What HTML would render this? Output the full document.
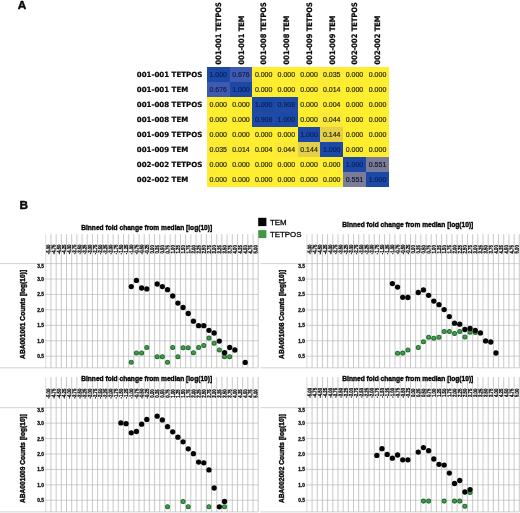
<!DOCTYPE html>
<html lang="en">
<head>
<meta charset="utf-8">
<title>Figure: correlation matrix and binned fold change plots</title>
<style>
html,body{margin:0;padding:0;background:#fff;}
body{width:520px;height:513px;overflow:hidden;font-family:"Liberation Sans",Arial,sans-serif;}
svg{display:block;}
</style>
</head>
<body>
<svg width="520" height="513" viewBox="0 0 520 513">
<rect width="520" height="513" fill="#fff"/>
<g shape-rendering="crispEdges">
<rect x="206.9" y="67.4" width="182.40" height="119.84" fill="#ffee30"/>
<rect x="206.90" y="67.40" width="22.70" height="14.98" fill="#1d49a6"/>
<rect x="229.60" y="67.40" width="22.70" height="14.98" fill="#3f5bb0"/>
<rect x="320.40" y="67.40" width="22.70" height="14.98" fill="#fcea36"/>
<rect x="206.90" y="82.38" width="22.70" height="14.98" fill="#3f5bb0"/>
<rect x="229.60" y="82.38" width="22.70" height="14.98" fill="#1d49a6"/>
<rect x="320.40" y="82.38" width="22.70" height="14.98" fill="#feec32"/>
<rect x="252.30" y="97.36" width="22.70" height="14.98" fill="#1d49a6"/>
<rect x="275.00" y="97.36" width="22.70" height="14.98" fill="#1f4aa6"/>
<rect x="252.30" y="112.34" width="22.70" height="14.98" fill="#1f4aa6"/>
<rect x="275.00" y="112.34" width="22.70" height="14.98" fill="#1d49a6"/>
<rect x="320.40" y="112.34" width="22.70" height="14.98" fill="#fbe838"/>
<rect x="297.70" y="127.32" width="22.70" height="14.98" fill="#1d49a6"/>
<rect x="320.40" y="127.32" width="22.70" height="14.98" fill="#e4cf48"/>
<rect x="206.90" y="142.30" width="22.70" height="14.98" fill="#fcea36"/>
<rect x="229.60" y="142.30" width="22.70" height="14.98" fill="#feec32"/>
<rect x="275.00" y="142.30" width="22.70" height="14.98" fill="#fbe838"/>
<rect x="297.70" y="142.30" width="22.70" height="14.98" fill="#e4cf48"/>
<rect x="320.40" y="142.30" width="22.70" height="14.98" fill="#1d49a6"/>
<rect x="343.10" y="157.28" width="22.70" height="14.98" fill="#1d49a6"/>
<rect x="365.80" y="157.28" width="23.50" height="14.98" fill="#7b7c98"/>
<rect x="343.10" y="172.26" width="22.70" height="14.98" fill="#7b7c98"/>
<rect x="365.80" y="172.26" width="23.50" height="14.98" fill="#1d49a6"/>
</g>
<g font-family="'Liberation Sans',Arial,sans-serif" font-size="7" text-anchor="middle" stroke-width="0.18">
<text x="218.25" y="76.99" fill="#08205f" stroke="#08205f">1.000</text>
<text x="240.95" y="76.99" fill="#101c50" stroke="#101c50">0.676</text>
<text x="263.65" y="76.99" fill="#26260a" stroke="#26260a">0.000</text>
<text x="286.35" y="76.99" fill="#26260a" stroke="#26260a">0.000</text>
<text x="309.05" y="76.99" fill="#26260a" stroke="#26260a">0.000</text>
<text x="331.75" y="76.99" fill="#26260a" stroke="#26260a">0.035</text>
<text x="354.45" y="76.99" fill="#26260a" stroke="#26260a">0.000</text>
<text x="377.55" y="76.99" fill="#26260a" stroke="#26260a">0.000</text>
<text x="218.25" y="91.97" fill="#101c50" stroke="#101c50">0.676</text>
<text x="240.95" y="91.97" fill="#08205f" stroke="#08205f">1.000</text>
<text x="263.65" y="91.97" fill="#26260a" stroke="#26260a">0.000</text>
<text x="286.35" y="91.97" fill="#26260a" stroke="#26260a">0.000</text>
<text x="309.05" y="91.97" fill="#26260a" stroke="#26260a">0.000</text>
<text x="331.75" y="91.97" fill="#26260a" stroke="#26260a">0.014</text>
<text x="354.45" y="91.97" fill="#26260a" stroke="#26260a">0.000</text>
<text x="377.55" y="91.97" fill="#26260a" stroke="#26260a">0.000</text>
<text x="218.25" y="106.95" fill="#26260a" stroke="#26260a">0.000</text>
<text x="240.95" y="106.95" fill="#26260a" stroke="#26260a">0.000</text>
<text x="263.65" y="106.95" fill="#08205f" stroke="#08205f">1.000</text>
<text x="286.35" y="106.95" fill="#08205f" stroke="#08205f">0.908</text>
<text x="309.05" y="106.95" fill="#26260a" stroke="#26260a">0.000</text>
<text x="331.75" y="106.95" fill="#26260a" stroke="#26260a">0.004</text>
<text x="354.45" y="106.95" fill="#26260a" stroke="#26260a">0.000</text>
<text x="377.55" y="106.95" fill="#26260a" stroke="#26260a">0.000</text>
<text x="218.25" y="121.93" fill="#26260a" stroke="#26260a">0.000</text>
<text x="240.95" y="121.93" fill="#26260a" stroke="#26260a">0.000</text>
<text x="263.65" y="121.93" fill="#08205f" stroke="#08205f">0.908</text>
<text x="286.35" y="121.93" fill="#08205f" stroke="#08205f">1.000</text>
<text x="309.05" y="121.93" fill="#26260a" stroke="#26260a">0.000</text>
<text x="331.75" y="121.93" fill="#26260a" stroke="#26260a">0.044</text>
<text x="354.45" y="121.93" fill="#26260a" stroke="#26260a">0.000</text>
<text x="377.55" y="121.93" fill="#26260a" stroke="#26260a">0.000</text>
<text x="218.25" y="136.91" fill="#26260a" stroke="#26260a">0.000</text>
<text x="240.95" y="136.91" fill="#26260a" stroke="#26260a">0.000</text>
<text x="263.65" y="136.91" fill="#26260a" stroke="#26260a">0.000</text>
<text x="286.35" y="136.91" fill="#26260a" stroke="#26260a">0.000</text>
<text x="309.05" y="136.91" fill="#08205f" stroke="#08205f">1.000</text>
<text x="331.75" y="136.91" fill="#26260a" stroke="#26260a">0.144</text>
<text x="354.45" y="136.91" fill="#26260a" stroke="#26260a">0.000</text>
<text x="377.55" y="136.91" fill="#26260a" stroke="#26260a">0.000</text>
<text x="218.25" y="151.89" fill="#26260a" stroke="#26260a">0.035</text>
<text x="240.95" y="151.89" fill="#26260a" stroke="#26260a">0.014</text>
<text x="263.65" y="151.89" fill="#26260a" stroke="#26260a">0.004</text>
<text x="286.35" y="151.89" fill="#26260a" stroke="#26260a">0.044</text>
<text x="309.05" y="151.89" fill="#26260a" stroke="#26260a">0.144</text>
<text x="331.75" y="151.89" fill="#08205f" stroke="#08205f">1.000</text>
<text x="354.45" y="151.89" fill="#26260a" stroke="#26260a">0.000</text>
<text x="377.55" y="151.89" fill="#26260a" stroke="#26260a">0.000</text>
<text x="218.25" y="166.87" fill="#26260a" stroke="#26260a">0.000</text>
<text x="240.95" y="166.87" fill="#26260a" stroke="#26260a">0.000</text>
<text x="263.65" y="166.87" fill="#26260a" stroke="#26260a">0.000</text>
<text x="286.35" y="166.87" fill="#26260a" stroke="#26260a">0.000</text>
<text x="309.05" y="166.87" fill="#26260a" stroke="#26260a">0.000</text>
<text x="331.75" y="166.87" fill="#26260a" stroke="#26260a">0.000</text>
<text x="354.45" y="166.87" fill="#08205f" stroke="#08205f">1.000</text>
<text x="377.55" y="166.87" fill="#15152a" stroke="#15152a">0.551</text>
<text x="218.25" y="181.85" fill="#26260a" stroke="#26260a">0.000</text>
<text x="240.95" y="181.85" fill="#26260a" stroke="#26260a">0.000</text>
<text x="263.65" y="181.85" fill="#26260a" stroke="#26260a">0.000</text>
<text x="286.35" y="181.85" fill="#26260a" stroke="#26260a">0.000</text>
<text x="309.05" y="181.85" fill="#26260a" stroke="#26260a">0.000</text>
<text x="331.75" y="181.85" fill="#26260a" stroke="#26260a">0.000</text>
<text x="354.45" y="181.85" fill="#15152a" stroke="#15152a">0.551</text>
<text x="377.55" y="181.85" fill="#08205f" stroke="#08205f">1.000</text>
</g>
<g font-family="'DejaVu Sans',Verdana,sans-serif" font-weight="bold" font-size="7.05" fill="#0a0a0a" stroke="#0a0a0a" stroke-width="0.22">
<text x="136.8" y="77.19">001-001 TETPOS</text>
<text x="136.8" y="92.17">001-001 TEM</text>
<text x="136.8" y="107.15">001-008 TETPOS</text>
<text x="136.8" y="122.13">001-008 TEM</text>
<text x="136.8" y="137.11">001-009 TETPOS</text>
<text x="136.8" y="152.09">001-009 TEM</text>
<text x="136.8" y="167.07">002-002 TETPOS</text>
<text x="136.8" y="182.05">002-002 TEM</text>
<text transform="translate(221.00,64.4) rotate(-90) scale(1,1.12)" font-size="6.7">001-001 TETPOS</text>
<text transform="translate(243.70,64.4) rotate(-90) scale(1,1.12)" font-size="6.7">001-001 TEM</text>
<text transform="translate(266.40,64.4) rotate(-90) scale(1,1.12)" font-size="6.7">001-008 TETPOS</text>
<text transform="translate(289.10,64.4) rotate(-90) scale(1,1.12)" font-size="6.7">001-008 TEM</text>
<text transform="translate(311.80,64.4) rotate(-90) scale(1,1.12)" font-size="6.7">001-009 TETPOS</text>
<text transform="translate(334.50,64.4) rotate(-90) scale(1,1.12)" font-size="6.7">001-009 TEM</text>
<text transform="translate(357.20,64.4) rotate(-90) scale(1,1.12)" font-size="6.7">002-002 TETPOS</text>
<text transform="translate(380.30,64.4) rotate(-90) scale(1,1.12)" font-size="6.7">002-002 TEM</text>
</g>
<g font-family="'Liberation Sans',Arial,sans-serif" font-weight="bold" font-size="11.8" fill="#0a0a0a" stroke="#0a0a0a" stroke-width="0.45">
<text x="17.8" y="8.5">A</text><text x="19.4" y="209.0">B</text></g>
<rect x="258.2" y="217.8" width="8.2" height="8.3" fill="#050505"/>
<rect x="258.2" y="230.1" width="8.2" height="8" fill="#3d9a41"/>
<g font-family="'Liberation Sans',Arial,sans-serif" font-size="7.9" fill="#0a0a0a" stroke="#0a0a0a" stroke-width="0.3">
<text x="269.9" y="225.2">TEM</text><text x="269.9" y="237.3">TETPOS</text></g>
<g stroke="#b2b2b2" stroke-width="0.7" fill="none">
<path d="M45.80 234.2V367.8" stroke="#cfcfcf"/>
<path d="M50.98 234.2V367.8M56.16 234.2V367.8M61.34 234.2V367.8M66.52 234.2V367.8M71.70 234.2V367.8M76.88 234.2V367.8M82.06 234.2V367.8M87.24 234.2V367.8M92.42 234.2V367.8M97.60 234.2V367.8M102.78 234.2V367.8M107.96 234.2V367.8M113.14 234.2V367.8M118.32 234.2V367.8M123.50 234.2V367.8M128.68 234.2V367.8M133.86 234.2V367.8M139.04 234.2V367.8M144.22 234.2V367.8M149.40 234.2V367.8M154.58 234.2V367.8M159.76 234.2V367.8M164.94 234.2V367.8M170.12 234.2V367.8M175.30 234.2V367.8M180.48 234.2V367.8M185.66 234.2V367.8M190.84 234.2V367.8M196.02 234.2V367.8M201.20 234.2V367.8M206.38 234.2V367.8M211.56 234.2V367.8M216.74 234.2V367.8M221.92 234.2V367.8M227.10 234.2V367.8M232.28 234.2V367.8M237.46 234.2V367.8M242.64 234.2V367.8M247.82 234.2V367.8M253.00 234.2V367.8M258.18 234.2V367.8"/>
</g>
<g stroke="#b2b2b2" stroke-width="0.6" fill="none">
<path d="M0.0 263.60H258.18M44.70 279.03H258.18M44.70 294.46H258.18M44.70 309.89H258.18M44.70 325.32H258.18M44.70 340.75H258.18M44.70 356.18H258.18M0.0 367.80H258.18"/>
</g>
<text x="81.2" y="229.5" font-family="'Liberation Sans',Arial,sans-serif" font-weight="bold" font-size="7.3" fill="#050505" stroke="#050505" stroke-width="0.38" textLength="131" lengthAdjust="spacingAndGlyphs">Binned fold change from median [log(10)]</text>
<g font-family="'Liberation Sans',Arial,sans-serif" font-weight="bold" font-size="4.3" fill="#000" stroke="#000" stroke-width="0.2" text-anchor="middle">
<text transform="translate(50.34,249.4) rotate(-89.6) scale(1,1.3)">-5.00</text>
<text transform="translate(55.52,249.4) rotate(-89.6) scale(1,1.3)">-4.75</text>
<text transform="translate(60.70,249.4) rotate(-89.6) scale(1,1.3)">-4.50</text>
<text transform="translate(65.88,249.4) rotate(-89.6) scale(1,1.3)">-4.25</text>
<text transform="translate(71.06,249.4) rotate(-89.6) scale(1,1.3)">-4.00</text>
<text transform="translate(76.24,249.4) rotate(-89.6) scale(1,1.3)">-3.75</text>
<text transform="translate(81.42,249.4) rotate(-89.6) scale(1,1.3)">-3.50</text>
<text transform="translate(86.60,249.4) rotate(-89.6) scale(1,1.3)">-3.25</text>
<text transform="translate(91.78,249.4) rotate(-89.6) scale(1,1.3)">-3.00</text>
<text transform="translate(96.96,249.4) rotate(-89.6) scale(1,1.3)">-2.75</text>
<text transform="translate(102.14,249.4) rotate(-89.6) scale(1,1.3)">-2.50</text>
<text transform="translate(107.32,249.4) rotate(-89.6) scale(1,1.3)">-2.25</text>
<text transform="translate(112.50,249.4) rotate(-89.6) scale(1,1.3)">-2.00</text>
<text transform="translate(117.68,249.4) rotate(-89.6) scale(1,1.3)">-1.75</text>
<text transform="translate(122.86,249.4) rotate(-89.6) scale(1,1.3)">-1.50</text>
<text transform="translate(128.04,249.4) rotate(-89.6) scale(1,1.3)">-1.25</text>
<text transform="translate(133.22,249.4) rotate(-89.6) scale(1,1.3)">-1.00</text>
<text transform="translate(138.40,249.4) rotate(-89.6) scale(1,1.3)">-0.75</text>
<text transform="translate(143.58,249.4) rotate(-89.6) scale(1,1.3)">-0.50</text>
<text transform="translate(148.76,249.4) rotate(-89.6) scale(1,1.3)">-0.25</text>
<text transform="translate(153.94,249.4) rotate(-89.6) scale(1,1.3)">0.00</text>
<text transform="translate(159.12,249.4) rotate(-89.6) scale(1,1.3)">0.25</text>
<text transform="translate(164.30,249.4) rotate(-89.6) scale(1,1.3)">0.50</text>
<text transform="translate(169.48,249.4) rotate(-89.6) scale(1,1.3)">0.75</text>
<text transform="translate(174.66,249.4) rotate(-89.6) scale(1,1.3)">1.00</text>
<text transform="translate(179.84,249.4) rotate(-89.6) scale(1,1.3)">1.25</text>
<text transform="translate(185.02,249.4) rotate(-89.6) scale(1,1.3)">1.50</text>
<text transform="translate(190.20,249.4) rotate(-89.6) scale(1,1.3)">1.75</text>
<text transform="translate(195.38,249.4) rotate(-89.6) scale(1,1.3)">2.00</text>
<text transform="translate(200.56,249.4) rotate(-89.6) scale(1,1.3)">2.25</text>
<text transform="translate(205.74,249.4) rotate(-89.6) scale(1,1.3)">2.50</text>
<text transform="translate(210.92,249.4) rotate(-89.6) scale(1,1.3)">2.75</text>
<text transform="translate(216.10,249.4) rotate(-89.6) scale(1,1.3)">3.00</text>
<text transform="translate(221.28,249.4) rotate(-89.6) scale(1,1.3)">3.25</text>
<text transform="translate(226.46,249.4) rotate(-89.6) scale(1,1.3)">3.50</text>
<text transform="translate(231.64,249.4) rotate(-89.6) scale(1,1.3)">3.75</text>
<text transform="translate(236.82,249.4) rotate(-89.6) scale(1,1.3)">4.00</text>
<text transform="translate(242.00,249.4) rotate(-89.6) scale(1,1.3)">4.25</text>
<text transform="translate(247.18,249.4) rotate(-89.6) scale(1,1.3)">4.50</text>
<text transform="translate(252.36,249.4) rotate(-89.6) scale(1,1.3)">4.75</text>
<text transform="translate(257.54,249.4) rotate(-89.6) scale(1,1.3)">5.00</text>
</g>
<g font-family="'Liberation Sans',Arial,sans-serif" font-weight="bold" font-size="4.8" fill="#0a0a0a" stroke="#0a0a0a" stroke-width="0.28" text-anchor="end">
<text x="43.9" y="268.35">3.5</text>
<text x="43.9" y="280.98">3.0</text>
<text x="43.9" y="296.41">2.5</text>
<text x="43.9" y="311.84">2.0</text>
<text x="43.9" y="327.27">1.5</text>
<text x="43.9" y="342.70">1.0</text>
<text x="43.9" y="358.13">0.5</text>
</g>
<text transform="translate(25.2,314.4) rotate(-90)" text-anchor="middle" font-family="'Liberation Sans',Arial,sans-serif" font-weight="bold" font-size="7.3" fill="#050505" stroke="#050505" stroke-width="0.38" textLength="89" lengthAdjust="spacingAndGlyphs">ABA001001 Counts [log(10)]</text>
<g fill="#4a9b4f" stroke="#1f6f2b" stroke-width="1.05">
<circle cx="131.27" cy="362.2" r="2.0"/>
<circle cx="136.45" cy="353.0" r="2.0"/>
<circle cx="141.63" cy="353.0" r="2.0"/>
<circle cx="146.81" cy="347.4" r="2.0"/>
<circle cx="157.17" cy="356.8" r="2.0"/>
<circle cx="162.35" cy="356.8" r="2.0"/>
<circle cx="167.53" cy="362.2" r="2.0"/>
<circle cx="172.71" cy="347.4" r="2.0"/>
<circle cx="177.89" cy="356.7" r="2.0"/>
<circle cx="183.07" cy="347.7" r="2.0"/>
<circle cx="188.25" cy="347.7" r="2.0"/>
<circle cx="193.43" cy="352.7" r="2.0"/>
<circle cx="198.61" cy="347.5" r="2.0"/>
<circle cx="203.79" cy="345.4" r="2.0"/>
<circle cx="208.97" cy="338.1" r="2.0"/>
<circle cx="214.15" cy="343.2" r="2.0"/>
<circle cx="219.33" cy="350.0" r="2.0"/>
<circle cx="224.51" cy="356.7" r="2.0"/>
<circle cx="229.69" cy="356.7" r="2.0"/>
</g><g fill="#050505">
<circle cx="131.27" cy="286.6" r="2.65"/>
<circle cx="136.45" cy="280.4" r="2.65"/>
<circle cx="141.63" cy="288.0" r="2.65"/>
<circle cx="146.81" cy="288.9" r="2.65"/>
<circle cx="157.17" cy="284.0" r="2.65"/>
<circle cx="162.35" cy="286.6" r="2.65"/>
<circle cx="167.53" cy="289.7" r="2.65"/>
<circle cx="172.71" cy="296.0" r="2.65"/>
<circle cx="177.89" cy="303.1" r="2.65"/>
<circle cx="183.07" cy="307.5" r="2.65"/>
<circle cx="188.25" cy="313.5" r="2.65"/>
<circle cx="193.43" cy="321.2" r="2.65"/>
<circle cx="198.61" cy="325.7" r="2.65"/>
<circle cx="203.79" cy="325.7" r="2.65"/>
<circle cx="208.97" cy="330.3" r="2.65"/>
<circle cx="214.15" cy="333.0" r="2.65"/>
<circle cx="219.33" cy="341.1" r="2.65"/>
<circle cx="224.51" cy="352.7" r="2.65"/>
<circle cx="229.69" cy="347.5" r="2.65"/>
<circle cx="234.87" cy="350.0" r="2.65"/>
<circle cx="245.23" cy="362.4" r="2.65"/>
</g>
<g stroke="#b2b2b2" stroke-width="0.7" fill="none">
<path d="M306.90 234.2V367.8" stroke="#cfcfcf"/>
<path d="M312.08 234.2V367.8M317.26 234.2V367.8M322.44 234.2V367.8M327.62 234.2V367.8M332.80 234.2V367.8M337.98 234.2V367.8M343.16 234.2V367.8M348.34 234.2V367.8M353.52 234.2V367.8M358.70 234.2V367.8M363.88 234.2V367.8M369.06 234.2V367.8M374.24 234.2V367.8M379.42 234.2V367.8M384.60 234.2V367.8M389.78 234.2V367.8M394.96 234.2V367.8M400.14 234.2V367.8M405.32 234.2V367.8M410.50 234.2V367.8M415.68 234.2V367.8M420.86 234.2V367.8M426.04 234.2V367.8M431.22 234.2V367.8M436.40 234.2V367.8M441.58 234.2V367.8M446.76 234.2V367.8M451.94 234.2V367.8M457.12 234.2V367.8M462.30 234.2V367.8M467.48 234.2V367.8M472.66 234.2V367.8M477.84 234.2V367.8M483.02 234.2V367.8M488.20 234.2V367.8M493.38 234.2V367.8M498.56 234.2V367.8M503.74 234.2V367.8M508.92 234.2V367.8M514.10 234.2V367.8M519.28 234.2V367.8"/>
</g>
<g stroke="#b2b2b2" stroke-width="0.6" fill="none">
<path d="M260.3 263.60H519.28M305.80 279.03H519.28M305.80 294.46H519.28M305.80 309.89H519.28M305.80 325.32H519.28M305.80 340.75H519.28M305.80 356.18H519.28M260.3 367.80H519.28"/>
</g>
<text x="342.3" y="226.8" font-family="'Liberation Sans',Arial,sans-serif" font-weight="bold" font-size="7.3" fill="#050505" stroke="#050505" stroke-width="0.38" textLength="131" lengthAdjust="spacingAndGlyphs">Binned fold change from median [log(10)]</text>
<g font-family="'Liberation Sans',Arial,sans-serif" font-weight="bold" font-size="4.3" fill="#000" stroke="#000" stroke-width="0.2" text-anchor="middle">
<text transform="translate(311.44,249.4) rotate(-89.6) scale(1,1.3)">-5.00</text>
<text transform="translate(316.62,249.4) rotate(-89.6) scale(1,1.3)">-4.75</text>
<text transform="translate(321.80,249.4) rotate(-89.6) scale(1,1.3)">-4.50</text>
<text transform="translate(326.98,249.4) rotate(-89.6) scale(1,1.3)">-4.25</text>
<text transform="translate(332.16,249.4) rotate(-89.6) scale(1,1.3)">-4.00</text>
<text transform="translate(337.34,249.4) rotate(-89.6) scale(1,1.3)">-3.75</text>
<text transform="translate(342.52,249.4) rotate(-89.6) scale(1,1.3)">-3.50</text>
<text transform="translate(347.70,249.4) rotate(-89.6) scale(1,1.3)">-3.25</text>
<text transform="translate(352.88,249.4) rotate(-89.6) scale(1,1.3)">-3.00</text>
<text transform="translate(358.06,249.4) rotate(-89.6) scale(1,1.3)">-2.75</text>
<text transform="translate(363.24,249.4) rotate(-89.6) scale(1,1.3)">-2.50</text>
<text transform="translate(368.42,249.4) rotate(-89.6) scale(1,1.3)">-2.25</text>
<text transform="translate(373.60,249.4) rotate(-89.6) scale(1,1.3)">-2.00</text>
<text transform="translate(378.78,249.4) rotate(-89.6) scale(1,1.3)">-1.75</text>
<text transform="translate(383.96,249.4) rotate(-89.6) scale(1,1.3)">-1.50</text>
<text transform="translate(389.14,249.4) rotate(-89.6) scale(1,1.3)">-1.25</text>
<text transform="translate(394.32,249.4) rotate(-89.6) scale(1,1.3)">-1.00</text>
<text transform="translate(399.50,249.4) rotate(-89.6) scale(1,1.3)">-0.75</text>
<text transform="translate(404.68,249.4) rotate(-89.6) scale(1,1.3)">-0.50</text>
<text transform="translate(409.86,249.4) rotate(-89.6) scale(1,1.3)">-0.25</text>
<text transform="translate(415.04,249.4) rotate(-89.6) scale(1,1.3)">0.00</text>
<text transform="translate(420.22,249.4) rotate(-89.6) scale(1,1.3)">0.25</text>
<text transform="translate(425.40,249.4) rotate(-89.6) scale(1,1.3)">0.50</text>
<text transform="translate(430.58,249.4) rotate(-89.6) scale(1,1.3)">0.75</text>
<text transform="translate(435.76,249.4) rotate(-89.6) scale(1,1.3)">1.00</text>
<text transform="translate(440.94,249.4) rotate(-89.6) scale(1,1.3)">1.25</text>
<text transform="translate(446.12,249.4) rotate(-89.6) scale(1,1.3)">1.50</text>
<text transform="translate(451.30,249.4) rotate(-89.6) scale(1,1.3)">1.75</text>
<text transform="translate(456.48,249.4) rotate(-89.6) scale(1,1.3)">2.00</text>
<text transform="translate(461.66,249.4) rotate(-89.6) scale(1,1.3)">2.25</text>
<text transform="translate(466.84,249.4) rotate(-89.6) scale(1,1.3)">2.50</text>
<text transform="translate(472.02,249.4) rotate(-89.6) scale(1,1.3)">2.75</text>
<text transform="translate(477.20,249.4) rotate(-89.6) scale(1,1.3)">3.00</text>
<text transform="translate(482.38,249.4) rotate(-89.6) scale(1,1.3)">3.25</text>
<text transform="translate(487.56,249.4) rotate(-89.6) scale(1,1.3)">3.50</text>
<text transform="translate(492.74,249.4) rotate(-89.6) scale(1,1.3)">3.75</text>
<text transform="translate(497.92,249.4) rotate(-89.6) scale(1,1.3)">4.00</text>
<text transform="translate(503.10,249.4) rotate(-89.6) scale(1,1.3)">4.25</text>
<text transform="translate(508.28,249.4) rotate(-89.6) scale(1,1.3)">4.50</text>
<text transform="translate(513.46,249.4) rotate(-89.6) scale(1,1.3)">4.75</text>
<text transform="translate(518.64,249.4) rotate(-89.6) scale(1,1.3)">5.00</text>
</g>
<g font-family="'Liberation Sans',Arial,sans-serif" font-weight="bold" font-size="4.8" fill="#0a0a0a" stroke="#0a0a0a" stroke-width="0.28" text-anchor="end">
<text x="305.0" y="268.35">3.5</text>
<text x="305.0" y="280.98">3.0</text>
<text x="305.0" y="296.41">2.5</text>
<text x="305.0" y="311.84">2.0</text>
<text x="305.0" y="327.27">1.5</text>
<text x="305.0" y="342.70">1.0</text>
<text x="305.0" y="358.13">0.5</text>
</g>
<text transform="translate(284.2,314.4) rotate(-90)" text-anchor="middle" font-family="'Liberation Sans',Arial,sans-serif" font-weight="bold" font-size="7.3" fill="#050505" stroke="#050505" stroke-width="0.38" textLength="89" lengthAdjust="spacingAndGlyphs">ABA001008 Counts [log(10)]</text>
<g fill="#4a9b4f" stroke="#1f6f2b" stroke-width="1.05">
<circle cx="397.55" cy="353.2" r="2.0"/>
<circle cx="402.73" cy="353.1" r="2.0"/>
<circle cx="407.91" cy="349.9" r="2.0"/>
<circle cx="418.27" cy="347.5" r="2.0"/>
<circle cx="423.45" cy="341.8" r="2.0"/>
<circle cx="428.63" cy="337.3" r="2.0"/>
<circle cx="433.81" cy="338.2" r="2.0"/>
<circle cx="438.99" cy="337.2" r="2.0"/>
<circle cx="444.17" cy="331.4" r="2.0"/>
<circle cx="449.35" cy="331.5" r="2.0"/>
<circle cx="454.53" cy="333.4" r="2.0"/>
<circle cx="459.71" cy="331.5" r="2.0"/>
<circle cx="464.89" cy="336.9" r="2.0"/>
<circle cx="470.07" cy="332.3" r="2.0"/>
<circle cx="475.25" cy="332.4" r="2.0"/>
</g><g fill="#050505">
<circle cx="392.37" cy="283.6" r="2.65"/>
<circle cx="397.55" cy="287.1" r="2.65"/>
<circle cx="402.73" cy="297.3" r="2.65"/>
<circle cx="407.91" cy="297.5" r="2.65"/>
<circle cx="418.27" cy="292.5" r="2.65"/>
<circle cx="423.45" cy="289.9" r="2.65"/>
<circle cx="428.63" cy="295.3" r="2.65"/>
<circle cx="433.81" cy="301.1" r="2.65"/>
<circle cx="438.99" cy="304.7" r="2.65"/>
<circle cx="444.17" cy="309.6" r="2.65"/>
<circle cx="449.35" cy="316.6" r="2.65"/>
<circle cx="454.53" cy="323.2" r="2.65"/>
<circle cx="459.71" cy="324.2" r="2.65"/>
<circle cx="464.89" cy="329.5" r="2.65"/>
<circle cx="470.07" cy="328.5" r="2.65"/>
<circle cx="475.25" cy="330.5" r="2.65"/>
<circle cx="480.43" cy="332.9" r="2.65"/>
<circle cx="485.61" cy="340.9" r="2.65"/>
<circle cx="490.79" cy="342.0" r="2.65"/>
<circle cx="495.97" cy="353.0" r="2.65"/>
</g>
<g stroke="#b2b2b2" stroke-width="0.7" fill="none">
<path d="M45.80 377.1V511.9" stroke="#cfcfcf"/>
<path d="M50.98 377.1V511.9M56.16 377.1V511.9M61.34 377.1V511.9M66.52 377.1V511.9M71.70 377.1V511.9M76.88 377.1V511.9M82.06 377.1V511.9M87.24 377.1V511.9M92.42 377.1V511.9M97.60 377.1V511.9M102.78 377.1V511.9M107.96 377.1V511.9M113.14 377.1V511.9M118.32 377.1V511.9M123.50 377.1V511.9M128.68 377.1V511.9M133.86 377.1V511.9M139.04 377.1V511.9M144.22 377.1V511.9M149.40 377.1V511.9M154.58 377.1V511.9M159.76 377.1V511.9M164.94 377.1V511.9M170.12 377.1V511.9M175.30 377.1V511.9M180.48 377.1V511.9M185.66 377.1V511.9M190.84 377.1V511.9M196.02 377.1V511.9M201.20 377.1V511.9M206.38 377.1V511.9M211.56 377.1V511.9M216.74 377.1V511.9M221.92 377.1V511.9M227.10 377.1V511.9M232.28 377.1V511.9M237.46 377.1V511.9M242.64 377.1V511.9M247.82 377.1V511.9M253.00 377.1V511.9M258.18 377.1V511.9"/>
</g>
<g stroke="#b2b2b2" stroke-width="0.6" fill="none">
<path d="M0.0 407.70H258.18M44.70 423.13H258.18M44.70 438.56H258.18M44.70 453.99H258.18M44.70 469.42H258.18M44.70 484.85H258.18M44.70 500.28H258.18M0.0 511.90H258.18"/>
</g>
<text x="81.2" y="380.8" font-family="'Liberation Sans',Arial,sans-serif" font-weight="bold" font-size="7.3" fill="#050505" stroke="#050505" stroke-width="0.38" textLength="131" lengthAdjust="spacingAndGlyphs">Binned fold change from median [log(10)]</text>
<g font-family="'Liberation Sans',Arial,sans-serif" font-weight="bold" font-size="4.3" fill="#000" stroke="#000" stroke-width="0.2" text-anchor="middle">
<text transform="translate(50.34,393.5) rotate(-89.6) scale(1,1.3)">-5.00</text>
<text transform="translate(55.52,393.5) rotate(-89.6) scale(1,1.3)">-4.75</text>
<text transform="translate(60.70,393.5) rotate(-89.6) scale(1,1.3)">-4.50</text>
<text transform="translate(65.88,393.5) rotate(-89.6) scale(1,1.3)">-4.25</text>
<text transform="translate(71.06,393.5) rotate(-89.6) scale(1,1.3)">-4.00</text>
<text transform="translate(76.24,393.5) rotate(-89.6) scale(1,1.3)">-3.75</text>
<text transform="translate(81.42,393.5) rotate(-89.6) scale(1,1.3)">-3.50</text>
<text transform="translate(86.60,393.5) rotate(-89.6) scale(1,1.3)">-3.25</text>
<text transform="translate(91.78,393.5) rotate(-89.6) scale(1,1.3)">-3.00</text>
<text transform="translate(96.96,393.5) rotate(-89.6) scale(1,1.3)">-2.75</text>
<text transform="translate(102.14,393.5) rotate(-89.6) scale(1,1.3)">-2.50</text>
<text transform="translate(107.32,393.5) rotate(-89.6) scale(1,1.3)">-2.25</text>
<text transform="translate(112.50,393.5) rotate(-89.6) scale(1,1.3)">-2.00</text>
<text transform="translate(117.68,393.5) rotate(-89.6) scale(1,1.3)">-1.75</text>
<text transform="translate(122.86,393.5) rotate(-89.6) scale(1,1.3)">-1.50</text>
<text transform="translate(128.04,393.5) rotate(-89.6) scale(1,1.3)">-1.25</text>
<text transform="translate(133.22,393.5) rotate(-89.6) scale(1,1.3)">-1.00</text>
<text transform="translate(138.40,393.5) rotate(-89.6) scale(1,1.3)">-0.75</text>
<text transform="translate(143.58,393.5) rotate(-89.6) scale(1,1.3)">-0.50</text>
<text transform="translate(148.76,393.5) rotate(-89.6) scale(1,1.3)">-0.25</text>
<text transform="translate(153.94,393.5) rotate(-89.6) scale(1,1.3)">0.00</text>
<text transform="translate(159.12,393.5) rotate(-89.6) scale(1,1.3)">0.25</text>
<text transform="translate(164.30,393.5) rotate(-89.6) scale(1,1.3)">0.50</text>
<text transform="translate(169.48,393.5) rotate(-89.6) scale(1,1.3)">0.75</text>
<text transform="translate(174.66,393.5) rotate(-89.6) scale(1,1.3)">1.00</text>
<text transform="translate(179.84,393.5) rotate(-89.6) scale(1,1.3)">1.25</text>
<text transform="translate(185.02,393.5) rotate(-89.6) scale(1,1.3)">1.50</text>
<text transform="translate(190.20,393.5) rotate(-89.6) scale(1,1.3)">1.75</text>
<text transform="translate(195.38,393.5) rotate(-89.6) scale(1,1.3)">2.00</text>
<text transform="translate(200.56,393.5) rotate(-89.6) scale(1,1.3)">2.25</text>
<text transform="translate(205.74,393.5) rotate(-89.6) scale(1,1.3)">2.50</text>
<text transform="translate(210.92,393.5) rotate(-89.6) scale(1,1.3)">2.75</text>
<text transform="translate(216.10,393.5) rotate(-89.6) scale(1,1.3)">3.00</text>
<text transform="translate(221.28,393.5) rotate(-89.6) scale(1,1.3)">3.25</text>
<text transform="translate(226.46,393.5) rotate(-89.6) scale(1,1.3)">3.50</text>
<text transform="translate(231.64,393.5) rotate(-89.6) scale(1,1.3)">3.75</text>
<text transform="translate(236.82,393.5) rotate(-89.6) scale(1,1.3)">4.00</text>
<text transform="translate(242.00,393.5) rotate(-89.6) scale(1,1.3)">4.25</text>
<text transform="translate(247.18,393.5) rotate(-89.6) scale(1,1.3)">4.50</text>
<text transform="translate(252.36,393.5) rotate(-89.6) scale(1,1.3)">4.75</text>
<text transform="translate(257.54,393.5) rotate(-89.6) scale(1,1.3)">5.00</text>
</g>
<g font-family="'Liberation Sans',Arial,sans-serif" font-weight="bold" font-size="4.8" fill="#0a0a0a" stroke="#0a0a0a" stroke-width="0.28" text-anchor="end">
<text x="43.9" y="412.45">3.5</text>
<text x="43.9" y="425.08">3.0</text>
<text x="43.9" y="440.51">2.5</text>
<text x="43.9" y="455.94">2.0</text>
<text x="43.9" y="471.37">1.5</text>
<text x="43.9" y="486.80">1.0</text>
<text x="43.9" y="502.23">0.5</text>
</g>
<text transform="translate(25.2,458.5) rotate(-90)" text-anchor="middle" font-family="'Liberation Sans',Arial,sans-serif" font-weight="bold" font-size="7.3" fill="#050505" stroke="#050505" stroke-width="0.38" textLength="89" lengthAdjust="spacingAndGlyphs">ABA001009 Counts [log(10)]</text>
<g fill="#4a9b4f" stroke="#1f6f2b" stroke-width="1.05">
<circle cx="167.53" cy="506.8" r="2.0"/>
<circle cx="183.07" cy="501.4" r="2.0"/>
<circle cx="188.25" cy="506.8" r="2.0"/>
<circle cx="208.97" cy="506.8" r="2.0"/>
<circle cx="224.51" cy="506.8" r="2.0"/>
</g><g fill="#050505">
<circle cx="120.91" cy="422.9" r="2.65"/>
<circle cx="126.09" cy="423.7" r="2.65"/>
<circle cx="131.27" cy="432.8" r="2.65"/>
<circle cx="136.45" cy="431.5" r="2.65"/>
<circle cx="141.63" cy="424.2" r="2.65"/>
<circle cx="146.81" cy="419.4" r="2.65"/>
<circle cx="157.17" cy="416.2" r="2.65"/>
<circle cx="162.35" cy="419.9" r="2.65"/>
<circle cx="167.53" cy="426.7" r="2.65"/>
<circle cx="172.71" cy="431.8" r="2.65"/>
<circle cx="177.89" cy="437.2" r="2.65"/>
<circle cx="183.07" cy="441.8" r="2.65"/>
<circle cx="188.25" cy="448.8" r="2.65"/>
<circle cx="193.43" cy="453.7" r="2.65"/>
<circle cx="198.61" cy="462.1" r="2.65"/>
<circle cx="203.79" cy="462.8" r="2.65"/>
<circle cx="208.97" cy="469.9" r="2.65"/>
<circle cx="214.15" cy="488.0" r="2.65"/>
<circle cx="219.33" cy="506.8" r="2.65"/>
<circle cx="224.51" cy="501.4" r="2.65"/>
</g>
<g stroke="#b2b2b2" stroke-width="0.7" fill="none">
<path d="M306.90 377.1V511.9" stroke="#cfcfcf"/>
<path d="M312.08 377.1V511.9M317.26 377.1V511.9M322.44 377.1V511.9M327.62 377.1V511.9M332.80 377.1V511.9M337.98 377.1V511.9M343.16 377.1V511.9M348.34 377.1V511.9M353.52 377.1V511.9M358.70 377.1V511.9M363.88 377.1V511.9M369.06 377.1V511.9M374.24 377.1V511.9M379.42 377.1V511.9M384.60 377.1V511.9M389.78 377.1V511.9M394.96 377.1V511.9M400.14 377.1V511.9M405.32 377.1V511.9M410.50 377.1V511.9M415.68 377.1V511.9M420.86 377.1V511.9M426.04 377.1V511.9M431.22 377.1V511.9M436.40 377.1V511.9M441.58 377.1V511.9M446.76 377.1V511.9M451.94 377.1V511.9M457.12 377.1V511.9M462.30 377.1V511.9M467.48 377.1V511.9M472.66 377.1V511.9M477.84 377.1V511.9M483.02 377.1V511.9M488.20 377.1V511.9M493.38 377.1V511.9M498.56 377.1V511.9M503.74 377.1V511.9M508.92 377.1V511.9M514.10 377.1V511.9M519.28 377.1V511.9"/>
</g>
<g stroke="#b2b2b2" stroke-width="0.6" fill="none">
<path d="M260.3 407.70H519.28M305.80 423.13H519.28M305.80 438.56H519.28M305.80 453.99H519.28M305.80 469.42H519.28M305.80 484.85H519.28M305.80 500.28H519.28M260.3 511.90H519.28"/>
</g>
<text x="342.3" y="381.2" font-family="'Liberation Sans',Arial,sans-serif" font-weight="bold" font-size="7.3" fill="#050505" stroke="#050505" stroke-width="0.38" textLength="131" lengthAdjust="spacingAndGlyphs">Binned fold change from median [log(10)]</text>
<g font-family="'Liberation Sans',Arial,sans-serif" font-weight="bold" font-size="4.3" fill="#000" stroke="#000" stroke-width="0.2" text-anchor="middle">
<text transform="translate(311.44,392.8) rotate(-89.6) scale(1,1.3)">-5.00</text>
<text transform="translate(316.62,392.8) rotate(-89.6) scale(1,1.3)">-4.75</text>
<text transform="translate(321.80,392.8) rotate(-89.6) scale(1,1.3)">-4.50</text>
<text transform="translate(326.98,392.8) rotate(-89.6) scale(1,1.3)">-4.25</text>
<text transform="translate(332.16,392.8) rotate(-89.6) scale(1,1.3)">-4.00</text>
<text transform="translate(337.34,392.8) rotate(-89.6) scale(1,1.3)">-3.75</text>
<text transform="translate(342.52,392.8) rotate(-89.6) scale(1,1.3)">-3.50</text>
<text transform="translate(347.70,392.8) rotate(-89.6) scale(1,1.3)">-3.25</text>
<text transform="translate(352.88,392.8) rotate(-89.6) scale(1,1.3)">-3.00</text>
<text transform="translate(358.06,392.8) rotate(-89.6) scale(1,1.3)">-2.75</text>
<text transform="translate(363.24,392.8) rotate(-89.6) scale(1,1.3)">-2.50</text>
<text transform="translate(368.42,392.8) rotate(-89.6) scale(1,1.3)">-2.25</text>
<text transform="translate(373.60,392.8) rotate(-89.6) scale(1,1.3)">-2.00</text>
<text transform="translate(378.78,392.8) rotate(-89.6) scale(1,1.3)">-1.75</text>
<text transform="translate(383.96,392.8) rotate(-89.6) scale(1,1.3)">-1.50</text>
<text transform="translate(389.14,392.8) rotate(-89.6) scale(1,1.3)">-1.25</text>
<text transform="translate(394.32,392.8) rotate(-89.6) scale(1,1.3)">-1.00</text>
<text transform="translate(399.50,392.8) rotate(-89.6) scale(1,1.3)">-0.75</text>
<text transform="translate(404.68,392.8) rotate(-89.6) scale(1,1.3)">-0.50</text>
<text transform="translate(409.86,392.8) rotate(-89.6) scale(1,1.3)">-0.25</text>
<text transform="translate(415.04,392.8) rotate(-89.6) scale(1,1.3)">0.00</text>
<text transform="translate(420.22,392.8) rotate(-89.6) scale(1,1.3)">0.25</text>
<text transform="translate(425.40,392.8) rotate(-89.6) scale(1,1.3)">0.50</text>
<text transform="translate(430.58,392.8) rotate(-89.6) scale(1,1.3)">0.75</text>
<text transform="translate(435.76,392.8) rotate(-89.6) scale(1,1.3)">1.00</text>
<text transform="translate(440.94,392.8) rotate(-89.6) scale(1,1.3)">1.25</text>
<text transform="translate(446.12,392.8) rotate(-89.6) scale(1,1.3)">1.50</text>
<text transform="translate(451.30,392.8) rotate(-89.6) scale(1,1.3)">1.75</text>
<text transform="translate(456.48,392.8) rotate(-89.6) scale(1,1.3)">2.00</text>
<text transform="translate(461.66,392.8) rotate(-89.6) scale(1,1.3)">2.25</text>
<text transform="translate(466.84,392.8) rotate(-89.6) scale(1,1.3)">2.50</text>
<text transform="translate(472.02,392.8) rotate(-89.6) scale(1,1.3)">2.75</text>
<text transform="translate(477.20,392.8) rotate(-89.6) scale(1,1.3)">3.00</text>
<text transform="translate(482.38,392.8) rotate(-89.6) scale(1,1.3)">3.25</text>
<text transform="translate(487.56,392.8) rotate(-89.6) scale(1,1.3)">3.50</text>
<text transform="translate(492.74,392.8) rotate(-89.6) scale(1,1.3)">3.75</text>
<text transform="translate(497.92,392.8) rotate(-89.6) scale(1,1.3)">4.00</text>
<text transform="translate(503.10,392.8) rotate(-89.6) scale(1,1.3)">4.25</text>
<text transform="translate(508.28,392.8) rotate(-89.6) scale(1,1.3)">4.50</text>
<text transform="translate(513.46,392.8) rotate(-89.6) scale(1,1.3)">4.75</text>
<text transform="translate(518.64,392.8) rotate(-89.6) scale(1,1.3)">5.00</text>
</g>
<g font-family="'Liberation Sans',Arial,sans-serif" font-weight="bold" font-size="4.8" fill="#0a0a0a" stroke="#0a0a0a" stroke-width="0.28" text-anchor="end">
<text x="305.0" y="412.45">3.5</text>
<text x="305.0" y="425.08">3.0</text>
<text x="305.0" y="440.51">2.5</text>
<text x="305.0" y="455.94">2.0</text>
<text x="305.0" y="471.37">1.5</text>
<text x="305.0" y="486.80">1.0</text>
<text x="305.0" y="502.23">0.5</text>
</g>
<text transform="translate(284.2,458.5) rotate(-90)" text-anchor="middle" font-family="'Liberation Sans',Arial,sans-serif" font-weight="bold" font-size="7.3" fill="#050505" stroke="#050505" stroke-width="0.38" textLength="89" lengthAdjust="spacingAndGlyphs">ABA002002 Counts [log(10)]</text>
<g fill="#4a9b4f" stroke="#1f6f2b" stroke-width="1.05">
<circle cx="423.45" cy="501.1" r="2.0"/>
<circle cx="428.63" cy="501.1" r="2.0"/>
<circle cx="444.17" cy="501.1" r="2.0"/>
<circle cx="454.53" cy="501.1" r="2.0"/>
<circle cx="459.71" cy="501.1" r="2.0"/>
<circle cx="464.89" cy="506.3" r="2.0"/>
<circle cx="470.07" cy="492.4" r="2.0"/>
</g><g fill="#050505">
<circle cx="376.83" cy="455.4" r="2.65"/>
<circle cx="382.01" cy="448.7" r="2.65"/>
<circle cx="387.19" cy="454.4" r="2.65"/>
<circle cx="392.37" cy="458.2" r="2.65"/>
<circle cx="397.55" cy="455.0" r="2.65"/>
<circle cx="402.73" cy="459.8" r="2.65"/>
<circle cx="407.91" cy="459.8" r="2.65"/>
<circle cx="418.27" cy="452.1" r="2.65"/>
<circle cx="423.45" cy="447.6" r="2.65"/>
<circle cx="428.63" cy="450.7" r="2.65"/>
<circle cx="433.81" cy="459.0" r="2.65"/>
<circle cx="438.99" cy="464.3" r="2.65"/>
<circle cx="444.17" cy="465.1" r="2.65"/>
<circle cx="449.35" cy="473.1" r="2.65"/>
<circle cx="454.53" cy="483.5" r="2.65"/>
<circle cx="459.71" cy="480.5" r="2.65"/>
<circle cx="464.89" cy="492.0" r="2.65"/>
<circle cx="470.07" cy="489.6" r="2.65"/>
</g>
</svg>
</body>
</html>
